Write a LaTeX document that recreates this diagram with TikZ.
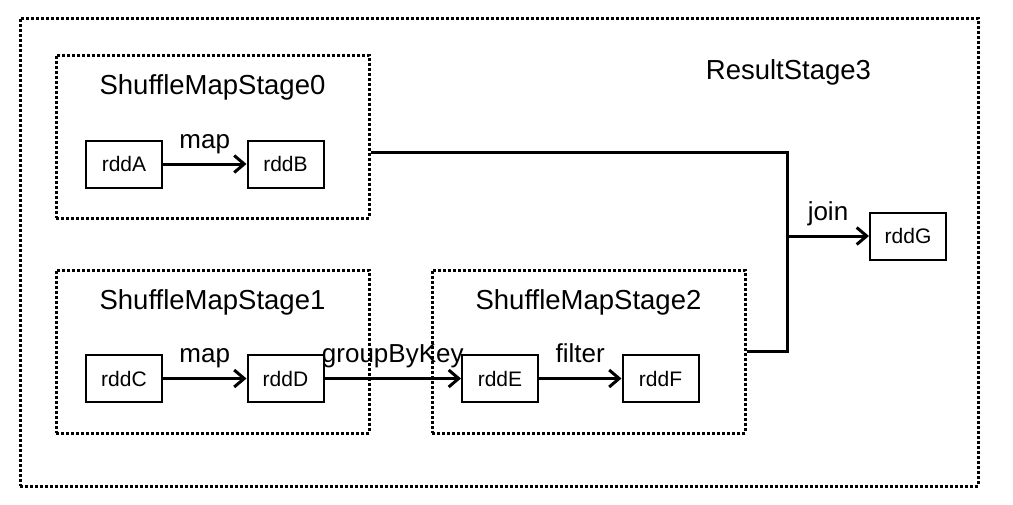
\documentclass[tikz,border=0pt]{standalone}
\usepackage{fontspec}
\setmainfont{Liberation Sans}
\usetikzlibrary{arrows.meta}
\tikzset{
  rdd/.style={draw,line width=2pt,minimum width=76pt,minimum height=47pt,
    inner sep=0pt,font=\fontsize{21}{21}\selectfont},
  stagebox/.style={draw,line width=3pt,dash pattern=on 3pt off 2pt,
    minimum width=313pt,minimum height=163pt,inner sep=0pt},
  stagetitle/.style={anchor=base,inner sep=0pt,font=\fontsize{27.5}{27.5}\selectfont},
  oplabel/.style={anchor=base,inner sep=0pt,yshift=16pt,font=\fontsize{26}{26}\selectfont},
  link/.style={line width=3pt}
}

\begin{document}
\begin{tikzpicture}[>={Straight Barb[length=10pt,width=17pt]},x=1pt,y=-1pt]
\useasboundingbox (0,0) rectangle (1013,504);
\draw (499,252) node[stagebox,minimum width=958pt,minimum height=468pt] (resultStage) {};
\draw (resultStage) ++ (289.5,-173) node[stagetitle] (resultTitle) {ResultStage3};
%
\draw (212.5,136.5) node[stagebox] (stage0) {};
\draw (stage0) ++ (0,-42.5) node[stagetitle] (stage0Title) {ShuffleMapStage0};
\draw (stage0) ++ (-88.5,27.5) node[rdd] (rddA) {rddA};
\draw (rddA) ++ (161.5,0) node[rdd] (rddB) {rddB};
\path[draw,link,->] (rddA) -- node[oplabel] {map} (rddB);
%
\draw (stage0) ++ (0,215) node[stagebox] (stage1) {};
\draw (stage1) ++ (0,-42.5) node[stagetitle] (stage1Title) {ShuffleMapStage1};
\draw (stage1) ++ (-88.5,27) node[rdd] (rddC) {rddC};
\draw (rddC) ++ (161.5,0) node[rdd] (rddD) {rddD};
\path[draw,link,->] (rddC) -- node[oplabel] {map} (rddD);
%
\draw (stage1) ++ (376,0) node[stagebox] (stage2) {};
\draw (stage2) ++ (0,-42.5) node[stagetitle] (stage2Title) {ShuffleMapStage2};
\draw (stage2) ++ (-88.5,27) node[rdd] (rddE) {rddE};
\draw (rddE) ++ (160.5,0) node[rdd] (rddF) {rddF};
\path[draw,link,->] (rddD) -- node[oplabel] {groupByKey} (rddE);
\path[draw,link,->] (rddE) -- node[oplabel] {filter} (rddF);
%
\draw (stage0) ++ (695.5,99.5) node[rdd] (rddG) {rddG};
\path (rddG.west) ++ (-82,0) coordinate (joinBus);
\path (stage0.east) ++ (0,15.5) coordinate (stage0Out);
\path[draw,link] (stage0Out) -| (joinBus) |- (stage2.east);
\path[draw,link,->] (joinBus) -- node[oplabel] {join} (rddG);
\end{tikzpicture}
\end{document}
